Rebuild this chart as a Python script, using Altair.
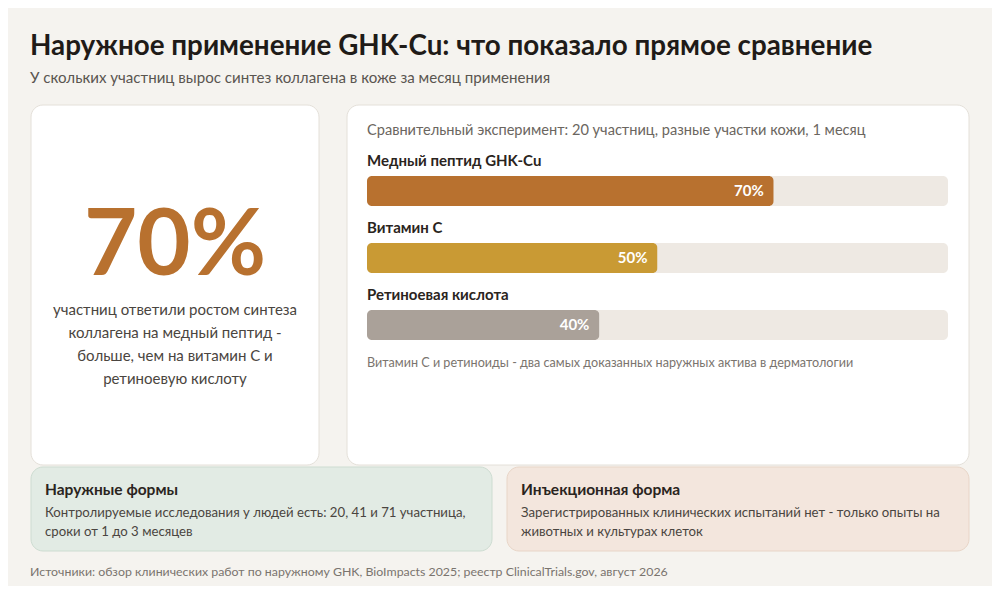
import altair as alt
import pandas as pd

# bar data
categories = ['Медный пептид GHK-Cu', 'Витамин С', 'Ретиноевая кислота']
values = [70, 50, 40]
palette = ['#b8712f', '#c99a34', '#aaa199']

title = 'Наружное применение GHK-Cu: что показало прямое сравнение'
subtitle = 'У скольких участниц вырос синтез коллагена в коже за месяц применения'
panel_head = 'Сравнительный эксперимент: 20 участниц, разные участки кожи, 1 месяц'
panel_note = 'Витамин С и ретиноиды - два самых доказанных наружных актива в дерматологии'
big_caption = 'участниц ответили ростом синтеза\nколлагена на медный пептид -\nбольше, чем на витамин С и\nретиноевую кислоту'
left_box = ['Наружные формы',
            'Контролируемые исследования у людей есть: 20, 41 и 71 участница,\nсроки от 1 до 3 месяцев']
right_box = ['Инъекционная форма',
             'Зарегистрированных клинических испытаний нет - только опыты на\nживотных и культурах клеток']
source = 'Источники: обзор клинических работ по наружному GHK, BioImpacts 2025; реестр ClinicalTrials.gov, август 2026'

FONT = 'Lato'
BG = '#f5f3ef'

df = pd.DataFrame({'cat': categories, 'value': values})
one = pd.DataFrame({'k': [0]})

x_scale = alt.Scale(domain=[0, 100], range=[359, 940])
y_scale = alt.Scale(range=[149.5, 350.5], paddingInner=0, paddingOuter=0)


def card(x, x2, y, y2, fill, stroke):
    return alt.Chart(one).mark_rect(cornerRadius=12, fill=fill, stroke=stroke, strokeWidth=1).encode(
        x=alt.value(x), x2=alt.value(x2), y=alt.value(y), y2=alt.value(y2))


def label(txt, x, y, size, color, weight='normal', align='left', lh=None):
    kw = dict(font=FONT, fontSize=size, color=color, fontWeight=weight, align=align,
              baseline='alphabetic', lineBreak='\n')
    if lh:
        kw['lineHeight'] = lh
    return alt.Chart(one).mark_text(**kw).encode(
        x=alt.value(x), y=alt.value(y), text=alt.value(txt))


ycat = alt.Y('cat:N', sort=categories, axis=None, scale=y_scale)

track = alt.Chart(df).transform_calculate(lo='0', hi='100').mark_bar(
    size=30, cornerRadius=5, color='#eee9e3').encode(
    x=alt.X('lo:Q', scale=x_scale, axis=None), x2='hi:Q', y=ycat)

bars = alt.Chart(df).mark_bar(size=30, cornerRadius=5).encode(
    x=alt.X('value:Q', scale=x_scale, axis=None),
    y=ycat,
    color=alt.Color('cat:N', scale=alt.Scale(domain=categories, range=palette), legend=None))

vals = alt.Chart(df).transform_calculate(lbl="datum.value + '%'").mark_text(
    font=FONT, fontSize=15, fontWeight='bold', color='white', align='right', dx=-10, baseline='middle').encode(
    x=alt.X('value:Q', scale=x_scale, axis=None), y=ycat, text='lbl:N')

names = alt.Chart(df).mark_text(
    font=FONT, fontSize=15, fontWeight='bold', color='#2a2420', align='left', baseline='alphabetic', dy=-25).encode(
    x=alt.value(359), y=ycat, text='cat:N')

big = alt.Chart(df).transform_filter(alt.datum.cat == categories[0]).transform_calculate(
    lbl="datum.value + '%'").mark_text(
    font=FONT, fontSize=92, fontWeight='bold', color='#b8712f', align='center', baseline='alphabetic').encode(
    x=alt.value(167), y=alt.value(267), text='lbl:N')

chart = alt.layer(
    card(23, 311, 97, 457, 'white', '#e4e0d9'),
    card(339, 961, 97, 457, 'white', '#e4e0d9'),
    card(23, 484, 459, 543, '#e2ebe4', '#cddcd1'),
    card(499, 961, 459, 543, '#f3e6dd', '#e8d5c7'),
    label(title, 22, 47, 27.8, '#1f1b18', 'bold'),
    label(subtitle, 22, 75, 15.1, '#5a5550'),
    label(panel_head, 359, 127, 14.6, '#6b6660'),
    track, bars, vals, names,
    label(panel_note, 359, 359, 12.6, '#7a746e'),
    big,
    label(big_caption, 167, 307, 15, '#4a4540', align='center', lh=23),
    label(left_box[0], 37, 487, 15.5, '#2a2420', 'bold'),
    label(left_box[1], 37, 509, 13.2, '#4a4540', lh=19),
    label(right_box[0], 513, 487, 15.5, '#2a2420', 'bold'),
    label(right_box[1], 513, 509, 13.2, '#4a4540', lh=19),
    label(source, 22, 568, 12.35, '#7a746e'),
).properties(
    width=984, height=578, padding=0, autosize=alt.AutoSizeParams(type='none'), background=BG
).configure_view(strokeWidth=0)

chart.save('out.html', embed_options={'renderer': 'svg', 'actions': False})
